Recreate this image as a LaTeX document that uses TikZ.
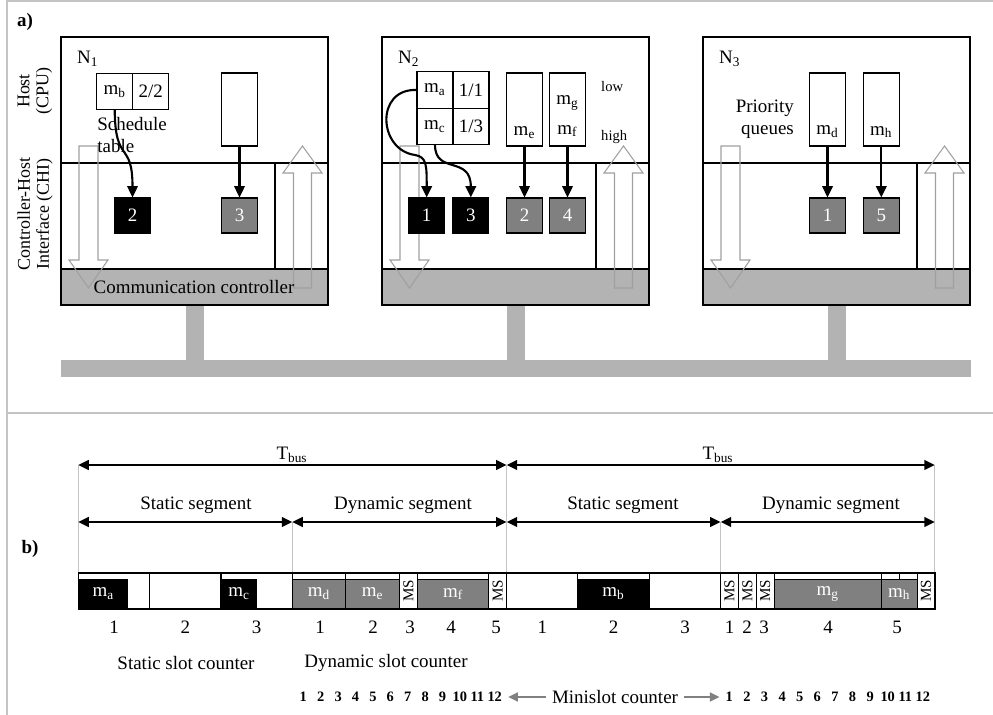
\documentclass[tikz,border=0pt]{standalone}
\usepackage{fontspec}
\setmainfont{Liberation Serif}
\usepackage{tikz}
\usetikzlibrary{arrows.meta, positioning}

\definecolor{grigiomsg}{HTML}{808080}
\definecolor{grigiocc}{HTML}{B3B3B3}
\definecolor{grigiocava}{HTML}{A0A0A0}
\definecolor{grigioguida}{HTML}{C4C4C4}

\begin{document}
\begin{tikzpicture}[
                x=0.02cm, y=-0.02cm,
                font=\fontsize{10.8}{12.5}\selectfont,
                % Stile delle celle della tabella di schedulazione
                cella/.style={
                    draw,
                    line width=0.6pt,
                    minimum width=0.72cm,
                    minimum height=0.73cm,
                    inner sep=0pt,
                    outer sep=0pt
                },
                % Stile delle code di priorita'
                coda/.style={
                    draw,
                    line width=0.6pt,
                    minimum width=0.72cm,
                    minimum height=1.46cm,
                    inner sep=0pt
                },
                % Stile dei buffer del CHI
                buffer/.style={
                    draw,
                    line width=0.6pt,
                    minimum width=0.72cm,
                    minimum height=0.7cm,
                    inner sep=0pt,
                    text=white
                },
                % Frecce nere con la punta piena
                freccia/.style={
                    -{Triangle[length=6.5pt, width=6pt]},
                    line width=1.2pt
                },
                % Frecce doppie della linea del tempo
                doppia/.style={
                    {Triangle[length=6pt, width=5.5pt]}-{Triangle[length=6pt, width=5.5pt]},
                    line width=1.3pt
                },
                % Frecce grigie del contatore dei minislot
                grigia/.style={
                    -{Triangle[length=5.5pt, width=5pt]},
                    line width=1.2pt,
                    draw=grigiomsg
                },
                cava/.style={draw=grigiocava, line width=0.6pt},
                guida/.style={draw=grigioguida, line width=0.6pt},
                messaggio/.style={draw, line width=0.5pt, fill=grigiomsg},
                testomsg/.style={text=white, inner sep=0pt},
                ms/.style={rotate=90, inner sep=0pt, font=\fontsize{8.6}{9}\selectfont},
                piccolo/.style={font=\fontsize{8.3}{10}\selectfont},
                minislot/.style={font=\fontsize{8.2}{9}\selectfont\bfseries}
            ]

                % 0. Area del disegno e cornice grigia
                \useasboundingbox (0,0) rectangle (993,715);
                \draw[guida] (7,0) -- (7,715);
                \draw[guida] (7,1) -- (993,1);
                \draw[guida] (7,413) -- (993,413);

                % 1. Etichette delle due parti
                \node[font=\fontsize{10.8}{12.5}\selectfont\bfseries] (parteA) at (25,22) {a)};
                \node[font=\fontsize{10.8}{12.5}\selectfont\bfseries] (parteB) at (30,549) {b)};

                % 2. Bus e i tre nodi
                \fill[grigiocc] (61,360) rectangle (971,377);
                \foreach \L/\n in {61/1, 382/2, 703/3}{
                    \fill[grigiocc] (\L,269) rectangle ({\L+267},305);
                    \fill[grigiocc] ({\L+124.5},305) rectangle ({\L+142.5},360);
                    \draw[line width=0.7pt] (\L,37) rectangle ({\L+267},305);
                    \draw[line width=0.7pt] (\L,163) -- ({\L+267},163)
                        (\L,269) -- ({\L+267},269)
                        ({\L+214},163) -- ({\L+214},269);
                    % frecce vuote verso il controller e verso l'host
                    \draw[cava] ({\L+18},146) -- ({\L+37},146) -- ({\L+37},260) -- ({\L+47},260)
                        -- ({\L+27.5},288) -- ({\L+8},260) -- ({\L+18},260) -- cycle;
                    \draw[cava] ({\L+232.5},288) -- ({\L+250.5},288) -- ({\L+250.5},173) -- ({\L+261},173)
                        -- ({\L+241.5},146) -- ({\L+222},173) -- ({\L+232.5},173) -- cycle;
                    \node[anchor=west] (nome\n) at ({\L+10},59) {N\textsubscript{\n}};
                }

                % 3. Etichette laterali
                \node[rotate=90, align=center, font=\fontsize{10.2}{10.8}\selectfont] (host) at (35,91) {Host\\(CPU)};
                \node[rotate=90, align=center, font=\fontsize{10.2}{10.8}\selectfont] (chi) at (35,214) {Controller-Host\\Interface (CHI)};
                \node (cc) at (194,287) {Communication controller};

                % 4. Nodo N1: tabella di schedulazione e buffer
                \node[cella] (mb) at (114.7,91.3) {m\textsubscript{b}};
                \node[cella, right=0pt of mb] (t22) {2/2};
                \node[anchor=north west, align=left, inner sep=0pt] (tabella) at (97,117) {Schedule\\table};
                \node[coda] (coda1) at (239.5,109.5) {};
                \node[buffer, fill=black] (n1b2) at (132.5,215.5) {2};
                \node[buffer, fill=grigiomsg] (n1b3) at (239.5,215.5) {3};
                \draw[freccia] (mb.south) .. controls (115,165) and (132.5,140) .. (n1b2.north);
                \draw[freccia] (coda1.south) -- (n1b3.north);

                % 5. Nodo N2
                \node[cella] (ma) at (435,90) {m\textsubscript{a}};
                \node[cella, right=0pt of ma] (t11) {1/1};
                \node[cella, below=0pt of ma] (mc) {m\textsubscript{c}};
                \node[cella, right=0pt of mc] (t13) {1/3};
                \node[coda] (coda2a) at (524.5,109.5) {};
                \node[coda] (coda2b) at (567.5,109.5) {};
                \node (me) at (524.5,133) {m\textsubscript{e}};
                \node (mg) at (567.5,103) {m\textsubscript{g}};
                \node (mf) at (567.5,131) {m\textsubscript{f}};
                \node[piccolo, anchor=west] (basso) at (595,87) {low};
                \node[piccolo, anchor=west] (alto) at (595,137) {high};
                \node[buffer, fill=black] (n2b1) at (426.7,215.5) {1};
                \node[buffer, fill=black] (n2b3) at (470.8,215.5) {3};
                \node[buffer, fill=grigiomsg] (n2b2) at (524.5,215.5) {2};
                \node[buffer, fill=grigiomsg] (n2b4) at (567.5,215.5) {4};
                \draw[freccia] (ma.west) .. controls (375,88) and (378,150) .. (415,155)
                    .. controls (426.7,157) and (426.7,165) .. (n2b1.north);
                \draw[freccia] (mc.south) .. controls (435,175) and (470.8,155) .. (n2b3.north);
                \draw[freccia] (coda2a.south) -- (n2b2.north);
                \draw[freccia] (coda2b.south) -- (n2b4.north);

                % 6. Nodo N3: code di priorita'
                \node[align=right, anchor=east] (priorita) at (800,119) {Priority\\queues};
                \node[coda] (coda3a) at (827.5,109.5) {};
                \node[coda] (coda3b) at (881.3,109.5) {};
                \node (md) at (827.5,132) {m\textsubscript{d}};
                \node (mh) at (881.3,132) {m\textsubscript{h}};
                \node[buffer, fill=grigiomsg] (n3b1) at (827.5,215.5) {1};
                \node[buffer, fill=grigiomsg] (n3b5) at (881.3,215.5) {5};
                \draw[freccia] (coda3a.south) -- (n3b1.north);
                \draw[freccia] (coda3b.south) -- (n3b5.north);

                % 7. Linea del tempo: cicli e segmenti
                \foreach \k/\x in {0/78.3, 1/292.3, 2/506.6, 3/720.6, 4/934.9}{
                    \coordinate (s\k) at (\x,573);
                    \coordinate (b\k) at (\x,465);
                    \coordinate (g\k) at (\x,522);
                }
                \draw[guida] (b0) -- (s0) (b2) -- (s2) (b4) -- (s4) (g1) -- (s1) (g3) -- (s3);
                \draw[doppia] (b0) -- (b2);
                \draw[doppia] (b2) -- (b4);
                \draw[doppia] (g0) -- (g1);
                \draw[doppia] (g1) -- (g2);
                \draw[doppia] (g2) -- (g3);
                \draw[doppia] (g3) -- (g4);
                \node (tbus1) at (292,455) {T\textsubscript{bus}};
                \node (tbus2) at (718,455) {T\textsubscript{bus}};
                \node (stat1) at (196,505) {Static segment};
                \node (dyn1) at (403,505) {Dynamic segment};
                \node (stat2) at (623,505) {Static segment};
                \node (dyn2) at (831,505) {Dynamic segment};

                % 8. Slot e messaggi
                \fill (78.3,579) rectangle (128.3,609);
                \fill (221.7,579) rectangle (256.7,609);
                \fill (577.9,579) rectangle (649.3,609);
                \node[testomsg] (ta) at (103.3,594) {m\textsubscript{a}};
                \node[testomsg] (tc) at (239.2,594) {m\textsubscript{c}};
                \node[testomsg] (tb) at (613.6,594) {m\textsubscript{b}};
                \foreach \a/\b/\m in {292.3/345.9/d, 345.9/399.5/e, 417.3/488.8/f, 774.2/881.4/g, 881.4/917.1/h}{
                    \draw[messaggio] (\a,579) rectangle (\b,609);
                    \node[testomsg] (t\m) at ({(\a+\b)/2},594) {m\textsubscript{\m}};
                }
                \foreach \x in {149.6, 221, 292.3, 577.9, 649.3, 720.6, 345.9, 399.5, 417.3,
                                488.8, 506.6, 738.5, 756.3, 774.2, 881.4, 917.1}
                    \draw[line width=0.6pt] (\x,573) -- (\x,609);
                \draw[line width=0.6pt] (899.3,573) -- (899.3,579);
                \draw[line width=0.7pt] (s0) rectangle (934.9,609);
                \foreach \a [count=\k] in {399.5, 488.8, 720.6, 738.5, 756.3, 917.1}
                    \node[ms] (ms\k) at ({\a+8.9},591) {MS};

                % 9. Contatori
                \foreach \x/\c [count=\k] in {114/1, 185.3/2, 256.7/3, 542.3/1, 613.6/2, 685/3}
                    \node (cs\k) at (\x,627) {\c};
                \foreach \x/\c [count=\k] in {320/1, 373/2, 410/3, 451/4, 496/5,
                                              729.5/1, 747/2, 764/3, 828/4, 897/5}
                    \node (cd\k) at (\x,627) {\c};
                \node (contstat) at (186,663) {Static slot counter};
                \node (contdyn) at (386,663) {Dynamic slot counter};
                \foreach \i in {1,...,12}{
                    \node[minislot] (sx\i) at ({303.3+17.4*(\i-1)},697) {\i};
                    \node[minislot] (dx\i) at ({729.3+17.6*(\i-1)},697) {\i};
                }
                \node (contmini) at (615,697) {Minislot counter};
                \draw[grigia] (contmini.west) -- (sx12.east);
                \draw[grigia] (contmini.east) -- (dx1.west);

            \end{tikzpicture}
\end{document}
